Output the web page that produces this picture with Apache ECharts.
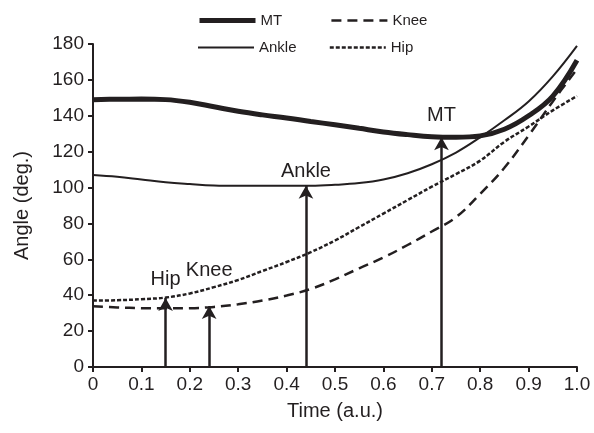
<!DOCTYPE html>
<html>
<head>
<meta charset="utf-8">
<script src="https://cdn.jsdelivr.net/npm/echarts@6/dist/echarts.min.js"></script>
<style>
    html, body { margin: 0; padding: 0; background: #fff; }
    #chart { width: 594px; height: 433px; }
</style>
</head>
<body>
<div id="chart"></div>
<script>
// 时间轴 (a.u.)
const times = [0, 0.05, 0.1, 0.15, 0.2, 0.25, 0.3, 0.35, 0.4, 0.45, 0.5,
    0.55, 0.6, 0.65, 0.7, 0.75, 0.8, 0.85, 0.9, 0.95, 1.0];

// 各关节角度 (deg.)
const mtAngle = [149, 149.2, 149.3, 149, 147.5, 145, 142.5, 140.5, 138.8, 136.8, 135,
    133, 131, 129.5, 128.3, 128, 128.8, 132.5, 140, 151, 171];
const ankleAngle = [107, 106, 104.5, 103, 102, 101.2, 101, 101, 101, 101, 101.5,
    102.5, 104.5, 108, 113, 119.5, 128, 137.5, 148, 162, 179];
const kneeAngle = [33.8, 33.2, 32.8, 32.7, 32.8, 33.5, 35, 37, 39.8, 43.5, 48.8,
    55, 61, 68, 75.5, 83.5, 96.5, 111, 129, 148, 166];
const hipAngle = [37, 37.2, 37.8, 38.7, 41, 44.5, 48.5, 53.5, 58.5, 64, 70.5,
    78, 85.5, 93, 100.5, 107.5, 115, 125.5, 134, 143, 151];

// 箭头 (最小角度时刻)
const arrowNames = ['Hip', 'Knee', 'Ankle', 'MT'];
const arrowTimes = [0.15, 0.24, 0.44, 0.72];
const arrowTops = [38.5, 34, 101, 128];
const arrowLabelGaps = [8, 26, 4, 12];

const xTicks = ['0', '0.1', '0.2', '0.3', '0.4', '0.5', '0.6', '0.7', '0.8', '0.9', '1.0'];

const INK = '#231f20';
const FONT = 'Liberation Sans, Arial, sans-serif';
const NO_SYMBOL = { color: 'rgba(0,0,0,0)', borderColor: 'rgba(0,0,0,0)', borderWidth: 0, opacity: 0 };

function pairs(values) {
    return times.map((t, i) => [t, values[i]]);
}

function curve(name, values, width, type) {
    return {
        name: name,
        type: 'line',
        data: pairs(values),
        smooth: 0.4,
        symbol: 'none',
        lineStyle: { color: INK, width: width, type: type },
        itemStyle: { color: INK },
        z: 3
    };
}

function legendItem(name, width) {
    return { name: name, lineStyle: { width: width }, itemStyle: NO_SYMBOL };
}

const arrowLines = arrowNames.map((name, i) => [
    { coord: [arrowTimes[i], 0] },
    {
        coord: [arrowTimes[i], arrowTops[i]],
        label: { formatter: name, distance: arrowLabelGaps[i] }
    }
]);

const chart = echarts.init(document.getElementById('chart'), null, { renderer: 'canvas' });

chart.setOption({
    animation: false,
    backgroundColor: '#fff',
    textStyle: { fontFamily: FONT, color: INK },
    grid: { left: 93, right: 17, top: 44, bottom: 66 },
    legend: [
        {
            left: 192, top: 8,
            itemWidth: 56, itemHeight: 14, itemGap: 48,
            textStyle: { fontSize: 15, color: INK, fontFamily: FONT },
            data: [legendItem('MT', 5), legendItem('Knee', 2.5)]
        },
        {
            left: 192, top: 35,
            itemWidth: 56, itemHeight: 14, itemGap: 32,
            textStyle: { fontSize: 15, color: INK, fontFamily: FONT },
            data: [legendItem('Ankle', 2), legendItem('Hip', 2.5)]
        }
    ],
    xAxis: {
        type: 'value',
        min: 0, max: 1, interval: 0.1,
        name: 'Time (a.u.)',
        nameLocation: 'middle',
        nameGap: 34,
        nameTextStyle: { fontSize: 20, color: INK },
        axisLine: { lineStyle: { color: INK, width: 2 } },
        axisTick: { length: 5, lineStyle: { color: INK, width: 2 } },
        axisLabel: {
            fontSize: 19, color: INK, margin: 8,
            formatter: (v) => xTicks[Math.round(v * 10)]
        },
        splitLine: { show: false }
    },
    yAxis: {
        type: 'value',
        min: 0, max: 180, interval: 20,
        name: 'Angle (deg.)',
        nameLocation: 'middle',
        nameGap: 61,
        nameRotate: 90,
        nameTextStyle: { fontSize: 20, color: INK },
        axisLine: { show: true, lineStyle: { color: INK, width: 2 } },
        axisTick: { show: true, length: 5, lineStyle: { color: INK, width: 2 } },
        axisLabel: { fontSize: 19, color: INK, margin: 9 },
        splitLine: { show: false }
    },
    series: [
        curve('MT', mtAngle, 5, 'solid'),
        curve('Knee', kneeAngle, 2.5, [10, 6]),
        curve('Ankle', ankleAngle, 2, 'solid'),
        Object.assign(curve('Hip', hipAngle, 2.5, [4, 2]), {
            markLine: {
                silent: true,
                symbol: ['none', 'arrow'],
                symbolSize: [11, 13],
                lineStyle: { color: INK, width: 2.5, type: 'solid' },
                label: {
                    show: true, position: 'end',
                    fontSize: 20, color: INK, fontFamily: FONT
                },
                emphasis: { disabled: true },
                data: arrowLines
            }
        })
    ]
});
</script>
</body>
</html>
